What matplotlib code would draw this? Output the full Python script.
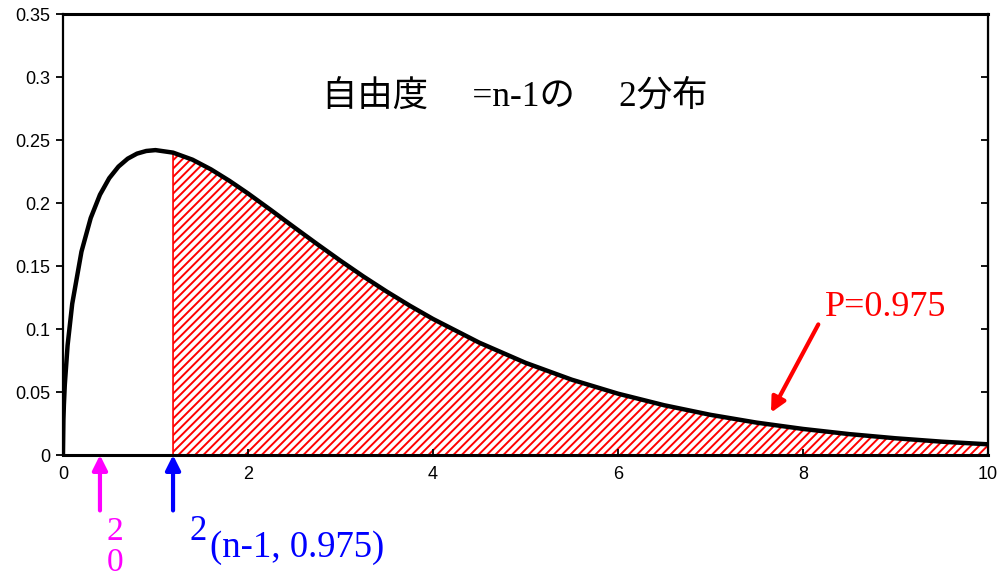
import matplotlib.pyplot as plt
import numpy as np

# chi-square density curve
x_vals = [0, 0.005, 0.01, 0.02, 0.05, 0.1, 0.2, 0.3, 0.4, 0.5, 0.6, 0.7, 0.8, 0.9,
          1.0, 1.19, 1.4, 1.6, 1.8, 2.0, 2.25, 2.5, 2.75, 3.0, 3.25, 3.5, 3.75,
          4.0, 4.5, 5.0, 5.5, 6.0, 6.5, 7.0, 7.5, 8.0, 8.5, 9.0, 9.5, 10.0]
density = [0, 0.0281, 0.0397, 0.0559, 0.0870, 0.1200, 0.1614, 0.1881, 0.2066, 0.2197,
           0.2289, 0.2352, 0.2392, 0.2413, 0.2420, 0.2400, 0.2344, 0.2267, 0.2176,
           0.2076, 0.1943, 0.1807, 0.1673, 0.1542, 0.1416, 0.1297, 0.1185, 0.1080,
           0.0892, 0.0732, 0.0598, 0.0487, 0.0395, 0.0319, 0.0257, 0.0207, 0.0166,
           0.0133, 0.0106, 0.0085]

chi2_lower = 1.19   # chi^2(n-1, 0.975)
chi2_obs = 0.4      # chi^2_0
p_label = 'P=0.975'

x = np.array(x_vals)
y = np.array(density)

plt.rcParams['hatch.linewidth'] = 1.4
fig = plt.figure(figsize=(10.01, 5.77), dpi=100)
ax = fig.add_axes([0.0629, 0.2114, 0.9241, 0.7643])

# hatched upper region
ax.fill_between(x, 0, y, where=x >= chi2_lower, facecolor='white', edgecolor='red',
                hatch='////', linewidth=1.2, interpolate=False)
ax.plot(x, y, color='black', lw=3.2, solid_capstyle='butt')

ax.set_xlim(0, 10)
ax.set_ylim(0, 0.35)
ax.set_xticks([0, 2, 4, 6, 8, 10])
yt = np.arange(0, 0.351, 0.05).round(2)
ax.set_yticks(yt)
ax.set_yticklabels([f'{v:g}' for v in yt])
ax.tick_params(axis='y', direction='out', length=5, width=1.3, labelsize=13, pad=4)
ax.tick_params(axis='x', direction='in', length=4, width=1.3, labelsize=13, pad=8)
for lab in ax.get_xticklabels() + ax.get_yticklabels():
    lab.set_family('Liberation Sans')

ax.spines['left'].set_linewidth(1.6)
ax.spines['right'].set_linewidth(1.6)
ax.spines['top'].set_linewidth(2.2)
ax.spines['bottom'].set_linewidth(2.2)

# inward ticks on the right side
sec = ax.secondary_yaxis('right')
sec.set_yticks(yt)
sec.tick_params(direction='in', length=5, width=1.3, labelright=False)

ax.text(4.88, 0.284, '自由度　 =n-1の　 2分布', ha='center', va='center', fontsize=25.5,
        family=['Liberation Serif', 'Noto Sans CJK JP'])

# P label and arrow
ax.text(8.24, 0.1167, p_label, ha='left', va='center', fontsize=26, color='red',
        family='Liberation Serif')
ax.annotate('', xy=(7.64, 0.0317), xytext=(8.18, 0.1056),
            arrowprops=dict(arrowstyle='-|>', color='red', lw=3, mutation_scale=22))

# arrows below the axis
ax.annotate('', xy=(chi2_obs, 0), xytext=(chi2_obs, -0.044), annotation_clip=False,
            arrowprops=dict(arrowstyle='-|>', color='magenta', lw=3, mutation_scale=22,
                            shrinkA=0, shrinkB=0))
ax.annotate('', xy=(chi2_lower, 0), xytext=(chi2_lower, -0.044), annotation_clip=False,
            arrowprops=dict(arrowstyle='-|>', color='blue', lw=3, mutation_scale=22,
                            shrinkA=0, shrinkB=0))

ax.text(0.562, -0.0610, '2', ha='center', va='center', fontsize=24, color='magenta',
        family='Liberation Serif', clip_on=False)
ax.text(0.562, -0.0855, '0', ha='center', va='center', fontsize=24, color='magenta',
        family='Liberation Serif', clip_on=False)
ax.text(1.373, -0.0610, '2', ha='left', va='center', fontsize=25, color='blue',
        family='Liberation Serif', clip_on=False)
ax.text(1.589, -0.0735, '(n-1, 0.975)', ha='left', va='center', fontsize=26.5, color='blue',
        family='Liberation Serif', clip_on=False)

fig.savefig('out.png', dpi=100)
